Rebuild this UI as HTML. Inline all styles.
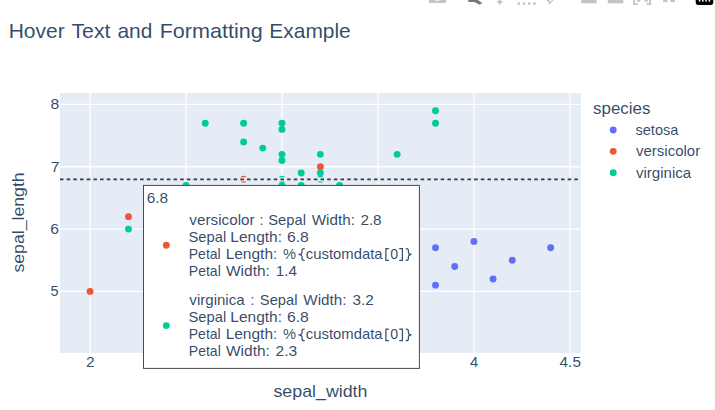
<!DOCTYPE html>
<html><head><meta charset="utf-8"><title>Hover Text and Formatting Example</title>
<style>
html,body{margin:0;padding:0;background:#fff;}
body{width:715px;height:410px;overflow:hidden;font-family:"Liberation Sans",sans-serif;}
svg{display:block;position:absolute;left:0;top:0;}
text{font-family:"Liberation Sans",sans-serif;fill:#2a3f5f;fill-opacity:0.95;}
</style></head><body>
<svg width="715" height="410" viewBox="0 0 715 410">
<rect x="0" y="0" width="715" height="410" fill="#ffffff"/>
<rect x="60.0" y="93.1" width="520.8" height="259.79999999999995" fill="#e5ecf6"/>
<g stroke="#ffffff" stroke-width="1.3">
<line x1="90.20" y1="93.1" x2="90.20" y2="352.9"/>
<line x1="186.15" y1="93.1" x2="186.15" y2="352.9"/>
<line x1="282.10" y1="93.1" x2="282.10" y2="352.9"/>
<line x1="378.05" y1="93.1" x2="378.05" y2="352.9"/>
<line x1="474.00" y1="93.1" x2="474.00" y2="352.9"/>
<line x1="569.95" y1="93.1" x2="569.95" y2="352.9"/>
<line x1="60.0" y1="291.35" x2="580.8" y2="291.35"/>
<line x1="60.0" y1="229.05" x2="580.8" y2="229.05"/>
<line x1="60.0" y1="166.75" x2="580.8" y2="166.75"/>
<line x1="60.0" y1="104.45" x2="580.8" y2="104.45"/>
</g>
<g fill="#636efa">
<circle cx="435.52" cy="247.79" r="3.45"/>
<circle cx="473.90" cy="241.56" r="3.45"/>
<circle cx="550.66" cy="247.79" r="3.45"/>
<circle cx="512.28" cy="260.25" r="3.45"/>
<circle cx="454.71" cy="266.48" r="3.45"/>
<circle cx="493.09" cy="278.94" r="3.45"/>
<circle cx="435.52" cy="285.17" r="3.45"/>
</g>
<g fill="#EF553B">
<circle cx="90.10" cy="291.40" r="3.45"/>
<circle cx="128.48" cy="216.64" r="3.45"/>
<circle cx="320.38" cy="166.80" r="3.45"/>
<circle cx="243.62" cy="179.26" r="3.45"/>
</g>
<g fill="#00cc96">
<circle cx="128.48" cy="229.10" r="3.45"/>
<circle cx="205.24" cy="123.19" r="3.45"/>
<circle cx="243.62" cy="123.19" r="3.45"/>
<circle cx="282.00" cy="123.19" r="3.45"/>
<circle cx="282.00" cy="129.42" r="3.45"/>
<circle cx="243.62" cy="141.88" r="3.45"/>
<circle cx="262.81" cy="148.11" r="3.45"/>
<circle cx="282.00" cy="154.34" r="3.45"/>
<circle cx="282.00" cy="160.57" r="3.45"/>
<circle cx="320.38" cy="154.34" r="3.45"/>
<circle cx="397.14" cy="154.34" r="3.45"/>
<circle cx="435.52" cy="110.73" r="3.45"/>
<circle cx="435.52" cy="123.19" r="3.45"/>
<circle cx="301.19" cy="173.03" r="3.45"/>
<circle cx="320.38" cy="173.03" r="3.45"/>
<circle cx="282.00" cy="179.26" r="3.45"/>
<circle cx="320.38" cy="179.26" r="3.45"/>
<circle cx="186.05" cy="185.49" r="3.45"/>
<circle cx="282.00" cy="185.49" r="3.45"/>
<circle cx="301.19" cy="185.49" r="3.45"/>
<circle cx="339.57" cy="185.49" r="3.45"/>
</g>
<line x1="60.0" y1="179.35" x2="580.8" y2="179.35" stroke="#e5ecf6" stroke-width="4.1"/>
<line x1="60.0" y1="179.35" x2="580.8" y2="179.35" stroke="#3a3a3a" stroke-width="1.75" stroke-dasharray="3.5 3.18"/>
<rect x="143.5" y="185.4" width="275.9" height="183.0" fill="#ffffff" stroke="#4a4a4a" stroke-width="1"/>
<circle cx="166.3" cy="245.2" r="3.45" fill="#EF553B"/>
<circle cx="166.3" cy="325.6" r="3.45" fill="#00cc96"/>
<circle cx="613.2" cy="130.00" r="3.45" fill="#636efa"/>
<circle cx="613.2" cy="151.35" r="3.45" fill="#EF553B"/>
<circle cx="613.2" cy="172.70" r="3.45" fill="#00cc96"/>
<text x="8.67" y="37.80" font-size="20.2" textLength="56.11" lengthAdjust="spacingAndGlyphs">Hover</text>
<text x="71.40" y="37.80" font-size="20.2" textLength="39.08" lengthAdjust="spacingAndGlyphs">Text</text>
<text x="117.44" y="37.80" font-size="20.2" textLength="34.97" lengthAdjust="spacingAndGlyphs">and</text>
<text x="159.66" y="37.80" font-size="20.2" textLength="103.16" lengthAdjust="spacingAndGlyphs">Formatting</text>
<text x="269.37" y="37.80" font-size="20.2" textLength="81.35" lengthAdjust="spacingAndGlyphs">Example</text>
<text x="593.04" y="113.60" font-size="16.1" textLength="57.37" lengthAdjust="spacingAndGlyphs">species</text>
<text x="635.46" y="134.95" font-size="13.9" textLength="42.92" lengthAdjust="spacingAndGlyphs">setosa</text>
<text x="635.97" y="156.30" font-size="13.9" textLength="64.20" lengthAdjust="spacingAndGlyphs">versicolor</text>
<text x="635.97" y="177.65" font-size="13.9" textLength="55.28" lengthAdjust="spacingAndGlyphs">virginica</text>
<text x="273.43" y="396.60" font-size="16.6" textLength="94.04" lengthAdjust="spacingAndGlyphs">sepal_width</text>
<text x="50.56" y="109.20" font-size="13.9" textLength="8.75" lengthAdjust="spacingAndGlyphs">8</text>
<text x="50.75" y="171.50" font-size="13.9" textLength="8.78" lengthAdjust="spacingAndGlyphs">7</text>
<text x="50.26" y="233.80" font-size="13.9" textLength="8.70" lengthAdjust="spacingAndGlyphs">6</text>
<text x="50.42" y="296.10" font-size="13.9" textLength="8.13" lengthAdjust="spacingAndGlyphs">5</text>
<text x="85.99" y="367.00" font-size="13.9" textLength="8.63" lengthAdjust="spacingAndGlyphs">2</text>
<text x="469.97" y="367.00" font-size="13.9" textLength="8.24" lengthAdjust="spacingAndGlyphs">4</text>
<text x="559.59" y="367.00" font-size="13.9" textLength="21.34" lengthAdjust="spacingAndGlyphs">4.5</text>
<text x="146.77" y="202.70" font-size="13.9" textLength="21.39" lengthAdjust="spacingAndGlyphs">6.8</text>
<text x="189.37" y="224.50" font-size="13.9" textLength="65.22" lengthAdjust="spacingAndGlyphs">versicolor</text>
<text x="259.44" y="224.50" font-size="13.9">:</text>
<text x="268.31" y="224.50" font-size="13.9" textLength="37.65" lengthAdjust="spacingAndGlyphs">Sepal</text>
<text x="311.69" y="224.50" font-size="13.9" textLength="43.20" lengthAdjust="spacingAndGlyphs">Width:</text>
<text x="360.40" y="224.50" font-size="13.9" textLength="21.23" lengthAdjust="spacingAndGlyphs">2.8</text>
<text x="188.47" y="241.60" font-size="13.9" textLength="37.76" lengthAdjust="spacingAndGlyphs">Sepal</text>
<text x="230.36" y="241.60" font-size="13.9" textLength="51.60" lengthAdjust="spacingAndGlyphs">Length:</text>
<text x="286.91" y="241.60" font-size="13.9" textLength="21.94" lengthAdjust="spacingAndGlyphs">6.8</text>
<text x="188.77" y="258.60" font-size="13.9" textLength="31.97" lengthAdjust="spacingAndGlyphs">Petal</text>
<text x="225.67" y="258.60" font-size="13.9" textLength="51.65" lengthAdjust="spacingAndGlyphs">Length:</text>
<text x="282.94" y="258.60" font-size="13.9" textLength="13.02" lengthAdjust="spacingAndGlyphs">%</text>
<text x="305.78" y="258.60" font-size="13.9" textLength="76.80" lengthAdjust="spacingAndGlyphs">customdata</text>
<text x="390.22" y="258.60" font-size="13.9" textLength="7.88" lengthAdjust="spacingAndGlyphs">0</text>
<text x="188.79" y="275.90" font-size="13.9" textLength="31.99" lengthAdjust="spacingAndGlyphs">Petal</text>
<text x="226.01" y="275.90" font-size="13.9" textLength="43.85" lengthAdjust="spacingAndGlyphs">Width:</text>
<text x="275.71" y="275.90" font-size="13.9" textLength="21.31" lengthAdjust="spacingAndGlyphs">1.4</text>
<text x="189.37" y="304.50" font-size="13.9" textLength="55.28" lengthAdjust="spacingAndGlyphs">virginica</text>
<text x="250.43" y="304.50" font-size="13.9">:</text>
<text x="259.81" y="304.50" font-size="13.9" textLength="37.74" lengthAdjust="spacingAndGlyphs">Sepal</text>
<text x="303.37" y="304.50" font-size="13.9" textLength="43.11" lengthAdjust="spacingAndGlyphs">Width:</text>
<text x="352.41" y="304.50" font-size="13.9" textLength="21.28" lengthAdjust="spacingAndGlyphs">3.2</text>
<text x="188.47" y="322.00" font-size="13.9" textLength="37.76" lengthAdjust="spacingAndGlyphs">Sepal</text>
<text x="230.36" y="322.00" font-size="13.9" textLength="51.60" lengthAdjust="spacingAndGlyphs">Length:</text>
<text x="286.91" y="322.00" font-size="13.9" textLength="21.94" lengthAdjust="spacingAndGlyphs">6.8</text>
<text x="188.77" y="339.00" font-size="13.9" textLength="31.97" lengthAdjust="spacingAndGlyphs">Petal</text>
<text x="225.67" y="339.00" font-size="13.9" textLength="51.65" lengthAdjust="spacingAndGlyphs">Length:</text>
<text x="282.94" y="339.00" font-size="13.9" textLength="13.02" lengthAdjust="spacingAndGlyphs">%</text>
<text x="305.78" y="339.00" font-size="13.9" textLength="76.80" lengthAdjust="spacingAndGlyphs">customdata</text>
<text x="390.22" y="339.00" font-size="13.9" textLength="7.88" lengthAdjust="spacingAndGlyphs">0</text>
<text x="188.79" y="355.90" font-size="13.9" textLength="31.99" lengthAdjust="spacingAndGlyphs">Petal</text>
<text x="226.01" y="355.90" font-size="13.9" textLength="43.85" lengthAdjust="spacingAndGlyphs">Width:</text>
<text x="275.59" y="355.90" font-size="13.9" textLength="21.68" lengthAdjust="spacingAndGlyphs">2.3</text>
<g fill="none" stroke="#2a3f5f" stroke-width="1.25" stroke-opacity="0.92"><path d="M388.9 248.60 H385.9 V260.30 H388.9"/><path d="M399.2 248.60 H402.4 V260.30 H399.2"/><path d="M405.7 248.60 H406.4 Q408.4 248.60 408.4 250.60 V252.25 Q408.4 254.45 411.6 254.45 Q408.4 254.45 408.4 256.65 V258.30 Q408.4 260.30 406.4 260.30 H405.7"/><path d="M304.7 248.60 H304 Q302 248.60 302 250.60 V252.25 Q302 254.45 298.4 254.45 Q302 254.45 302 256.65 V258.30 Q302 260.30 304 260.30 H304.7"/></g>
<g fill="none" stroke="#2a3f5f" stroke-width="1.25" stroke-opacity="0.92"><path d="M388.9 329.00 H385.9 V340.70 H388.9"/><path d="M399.2 329.00 H402.4 V340.70 H399.2"/><path d="M405.7 329.00 H406.4 Q408.4 329.00 408.4 331.00 V332.65 Q408.4 334.85 411.6 334.85 Q408.4 334.85 408.4 337.05 V338.70 Q408.4 340.70 406.4 340.70 H405.7"/><path d="M304.7 329.00 H304 Q302 329.00 302 331.00 V332.65 Q302 334.85 298.4 334.85 Q302 334.85 302 337.05 V338.70 Q302 340.70 304 340.70 H304.7"/></g>
<text transform="translate(23.8,272.55) rotate(-90)" font-size="16.6" textLength="100.21" lengthAdjust="spacingAndGlyphs">sepal_length</text>
<g fill="#c4c4c4" transform="translate(0,0.6)">
<path d="M428.8 -1 H446.2 V1.2 Q446.2 2.3 445.1 2.3 H429.9 Q428.8 2.3 428.8 1.2 Z"/>
<rect x="435.4" y="-1" width="4.1" height="1.5" fill="#ececec"/>
<path d="M496.4 0.7 H498.6 V-1 H500.9 V0.7 H503 L499.7 4.1 Z"/>
<rect x="517.50" y="1.7" width="2.4" height="2.5"/>
<rect x="522.80" y="1.7" width="2.4" height="2.5"/>
<rect x="528.00" y="1.7" width="2.4" height="2.5"/>
<rect x="533.20" y="1.7" width="2.4" height="2.5"/>
<path d="M552.2 -1 L554.2 -1 L549.2 3.8 L547.9 3.2 L549.6 1.8 L546.6 0.2 L546.8 -1 L548 -1 L550.6 0.8 Z"/>
<rect x="581.2" y="-1" width="15.4" height="3.7"/>
<rect x="607.8" y="-1" width="15.5" height="3.7"/>
<path d="M633.2 -1 h1.8 v3.7 h2.7 v1.6 h-4.5 Z M651 -1 h-1.8 v3.7 h-2.7 v1.6 h4.5 Z"/>
<rect x="637" y="-1" width="3.4" height="2.1"/><rect x="644.4" y="-1" width="3.4" height="2.1"/>
<rect x="663.2" y="-1" width="4.4" height="2.5"/><rect x="670.5" y="-1" width="4.5" height="2.5"/>
</g>
<path transform="translate(0,0.6)" d="M468.3 -1 L477.4 -1 L482.2 2.5 L479.8 4.2 L474.2 1.5 L468.3 1.5 Z" fill="#787878"/>
<path transform="translate(0,0.6)" d="M695.7 -1 H713.3 V2.2 Q713.3 4.3 711.2 4.3 H697.8 Q695.7 4.3 695.7 2.2 Z" fill="#000000"/>
<rect x="698.85" y="0" width="1.5" height="1.6" fill="#ffffff"/>
<rect x="702.05" y="0" width="1.5" height="1.6" fill="#ffffff"/>
<rect x="705.25" y="0" width="1.5" height="1.6" fill="#ffffff"/>
<rect x="708.65" y="0" width="1.5" height="1.6" fill="#ffffff"/>
</svg>
</body></html>
